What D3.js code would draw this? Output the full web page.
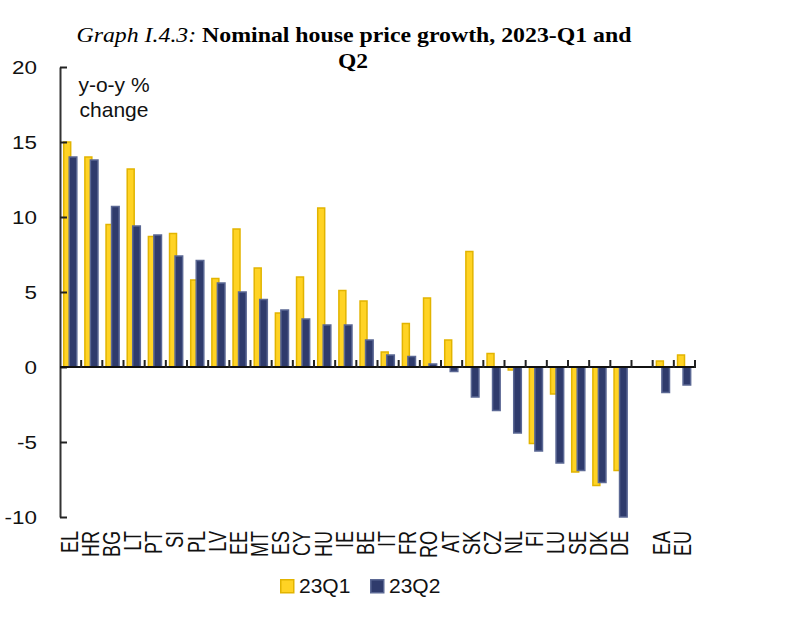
<!DOCTYPE html>
<html>
<head>
<meta charset="utf-8">
<script src="https://cdn.jsdelivr.net/npm/d3@7"></script>
<style>
  body { margin: 0; background: #fff; }
  svg { display: block; }
</style>
</head>
<body>
<div id="chart"></div>
<script>
// country codes, blank slot separates the aggregates
const countries = ["EL", "HR", "BG", "LT", "PT", "SI", "PL", "LV", "EE", "MT", "ES", "CY", "HU", "IE", "BE",
                   "IT", "FR", "RO", "AT", "SK", "CZ", "NL", "FI", "LU", "SE", "DK", "DE", "", "EA", "EU"];
const q1 = [15.0, 14.0, 9.5, 13.2, 8.7, 8.9, 5.8, 5.9, 9.2, 6.6, 3.6, 6.0, 10.6, 5.1, 4.4,
            1.0, 2.9, 4.6, 1.8, 7.7, 0.9, -0.2, -5.1, -1.8, -7.0, -7.9, -6.9, null, 0.4, 0.8];
const q2 = [14.0, 13.8, 10.7, 9.4, 8.8, 7.4, 7.1, 5.6, 5.0, 4.5, 3.8, 3.2, 2.8, 2.8, 1.8,
            0.8, 0.7, 0.2, -0.3, -2.0, -2.9, -4.4, -5.6, -6.4, -6.9, -7.7, -10.0, null, -1.7, -1.2];
const yTicks = [-10, -5, 0, 5, 10, 15, 20];
const seriesNames = ["23Q1", "23Q2"];

const W = 788, H = 643;
const margin = {top: 67, right: 93, bottom: 126, left: 60};

const yellow = {fill: "#ffd324", stroke: "#e2b400"};
const navy = {fill: "#2f3b6c", stroke: "#5b6894"};

const svg = d3.select("#chart").append("svg")
  .attr("width", W)
  .attr("height", H);

// slots use the index so the blank gap gets a unique key
const x = d3.scaleBand()
  .domain(d3.range(countries.length))
  .range([margin.left, W - margin.right])
  .padding(0);

const y = d3.scaleLinear()
  .domain([-10, 20])
  .range([H - margin.bottom, margin.top]);

const bw = x.bandwidth();

// the original text is a bit wider than the fonts we have, stretch it
function widen(sel, k) {
  sel.each(function() {
    let len = this.getComputedTextLength();
    d3.select(this).attr("textLength", len * k).attr("lengthAdjust", "spacingAndGlyphs");
  });
}

// title
const title = svg.append("text")
  .attr("x", 354)
  .attr("y", 42)
  .attr("text-anchor", "middle")
  .attr("font-family", "'Liberation Serif', 'Times New Roman', serif")
  .attr("font-size", 21);
title.append("tspan").attr("font-style", "italic").text("Graph I.4.3: ");
title.append("tspan").attr("font-weight", "bold").text("Nominal house price growth, 2023-Q1 and");
title.attr("textLength", 555).attr("lengthAdjust", "spacingAndGlyphs");

svg.append("text")
  .attr("x", 353)
  .attr("y", 68)
  .attr("text-anchor", "middle")
  .attr("font-family", "'Liberation Serif', 'Times New Roman', serif")
  .attr("font-size", 21)
  .attr("font-weight", "bold")
  .text("Q2")
  .call(widen, 1.12);

// unit label
const unit = svg.append("text")
  .attr("text-anchor", "middle")
  .attr("font-family", "'Liberation Sans', Arial, sans-serif")
  .attr("font-size", 21)
  .attr("fill", "#111");
unit.append("tspan").attr("x", 114).attr("y", 92).text("y-o-y %");
unit.append("tspan").attr("x", 114).attr("y", 117).text("change");

// bars
const bars = svg.append("g");
function drawSeries(values, col, off, frac) {
  bars.selectAll(null)
    .data(values.map((v, i) => ({i, v})).filter(d => d.v != null))
    .enter()
    .append("rect")
      .attr("x", d => x(d.i) + bw * off + 0.75)
      .attr("width", bw * frac - 1.5)
      .attr("y", d => Math.min(y(d.v), y(0)))
      .attr("height", d => Math.abs(y(d.v) - y(0)))
      .attr("fill", col.fill)
      .attr("stroke", col.stroke)
      .attr("stroke-width", 1.5);
}
drawSeries(q1, yellow, 0.14, 0.40);
drawSeries(q2, navy, 0.40, 0.43);

// y axis, ticks pointing inwards
const yAxis = svg.append("g")
  .attr("transform", `translate(${margin.left},0)`)
  .call(d3.axisLeft(y)
    .tickValues(yTicks)
    .tickFormat(d => String(d))
    .tickSizeInner(-7)
    .tickSizeOuter(0)
    .tickPadding(23));
yAxis.select(".domain").attr("stroke", "#333").attr("stroke-width", 2);
yAxis.selectAll(".tick line").attr("stroke", "#222").attr("stroke-width", 2);
yAxis.selectAll(".tick text")
  .attr("font-family", "'Liberation Sans', Arial, sans-serif")
  .attr("font-size", 19)
  .attr("fill", "#111")
  .call(widen, 1.18);

// x axis at zero with ticks between categories
const xAxis = svg.append("g");
xAxis.append("line")
  .attr("x1", x.range()[0])
  .attr("x2", x.range()[1])
  .attr("y1", y(0))
  .attr("y2", y(0))
  .attr("stroke", "#111")
  .attr("stroke-width", 2);
const bounds = d3.range(1, countries.length).map(i => x(i)).concat([x.range()[1]]);
xAxis.selectAll(".xt")
  .data(bounds)
  .enter()
  .append("line")
    .attr("x1", d => d)
    .attr("x2", d => d)
    .attr("y1", y(0) + 1)
    .attr("y2", y(0) - 7)
    .attr("stroke", "#222")
    .attr("stroke-width", 2);

// rotated country labels
svg.append("g").selectAll("text")
  .data(countries.map((c, i) => ({c, i})).filter(d => d.c !== ""))
  .enter()
  .append("text")
    .attr("transform", d => `translate(${x(d.i) + bw / 2 + 7},${y.range()[0] + 14}) rotate(-90) scale(1,1.3)`)
    .attr("text-anchor", "end")
    .attr("font-family", "'Liberation Sans', Arial, sans-serif")
    .attr("font-size", 18)
    .attr("fill", "#111")
    .text(d => d.c);

// legend
const legend = svg.append("g");
const legendX = [280, 370];
[yellow, navy].forEach((col, k) => {
  legend.append("rect")
    .attr("x", legendX[k] + 0.75)
    .attr("y", 579.75)
    .attr("width", 13)
    .attr("height", 13)
    .attr("fill", col.fill)
    .attr("stroke", col.stroke)
    .attr("stroke-width", 1.5);
  legend.append("text")
    .attr("x", legendX[k] + 19)
    .attr("y", 593)
    .attr("font-family", "'Liberation Sans', Arial, sans-serif")
    .attr("font-size", 21)
    .attr("fill", "#111")
    .text(seriesNames[k]);
});
</script>
</body>
</html>
